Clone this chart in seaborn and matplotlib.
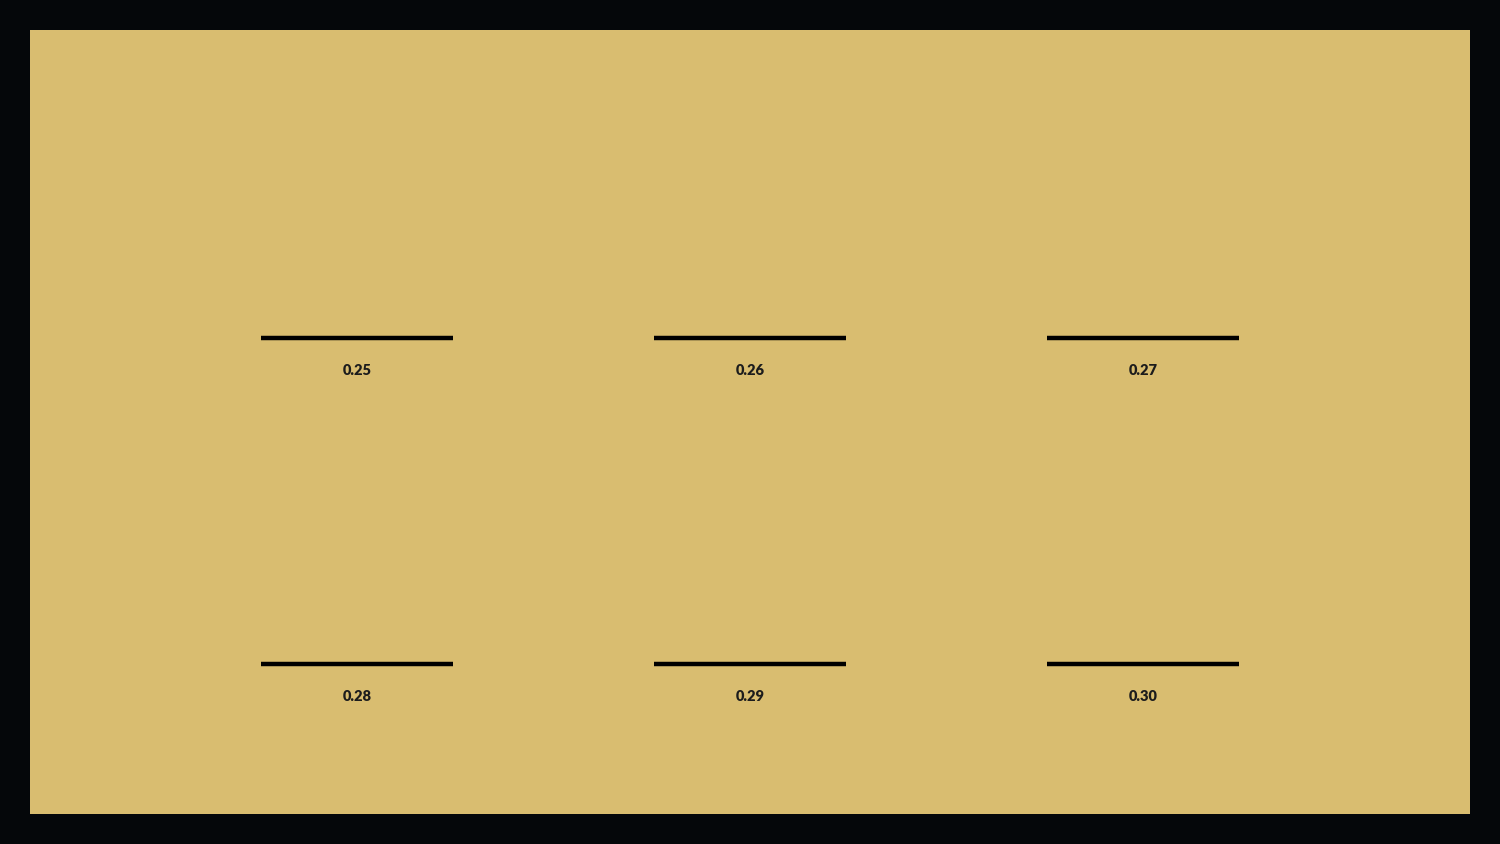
import matplotlib
matplotlib.use("Agg")
import matplotlib.pyplot as plt
import seaborn as sns
import pandas as pd

# values shown under each swatch
labels = ["0.25", "0.26", "0.27", "0.28", "0.29", "0.30"]
cols = [0, 1, 2, 0, 1, 2]
rows = [0, 0, 0, 1, 1, 1]
half = 0.244

sns.set_theme(style="white")
plt.rcParams['font.family'] = ['Lato', 'DejaVu Sans']

# two endpoints per segment
recs = []
for lab, c, r in zip(labels, cols, rows):
    recs.append({"x": c - half, "y": r, "seg": lab})
    recs.append({"x": c + half, "y": r, "seg": lab})
df = pd.DataFrame(recs)

fig = plt.figure(figsize=(15, 8.44), dpi=100, facecolor="#05070a")
ax = fig.add_axes([30 / 1500, 30 / 844, 1440 / 1500, 784 / 844])
ax.set_facecolor("#d9bd70")

sns.lineplot(data=df, x="x", y="y", units="seg", estimator=None,
             color="black", linewidth=3.2, ax=ax, legend=False,
             solid_capstyle="butt")

for lab, c, r in zip(labels, cols, rows):
    ax.text(c, r + 0.1, lab, ha="center", va="center", fontsize=10.5,
            fontweight="heavy", color="#1c1c1c")

ax.set_xlim(-327 / 393, 2 + 327 / 393)
ax.set_ylim(1 + 150 / 326, -308 / 326)
ax.set_xlabel("")
ax.set_ylabel("")
ax.set_xticks([])
ax.set_yticks([])
for s in ax.spines.values():
    s.set_visible(False)

fig.savefig("out.png", dpi=100, facecolor=fig.get_facecolor())
